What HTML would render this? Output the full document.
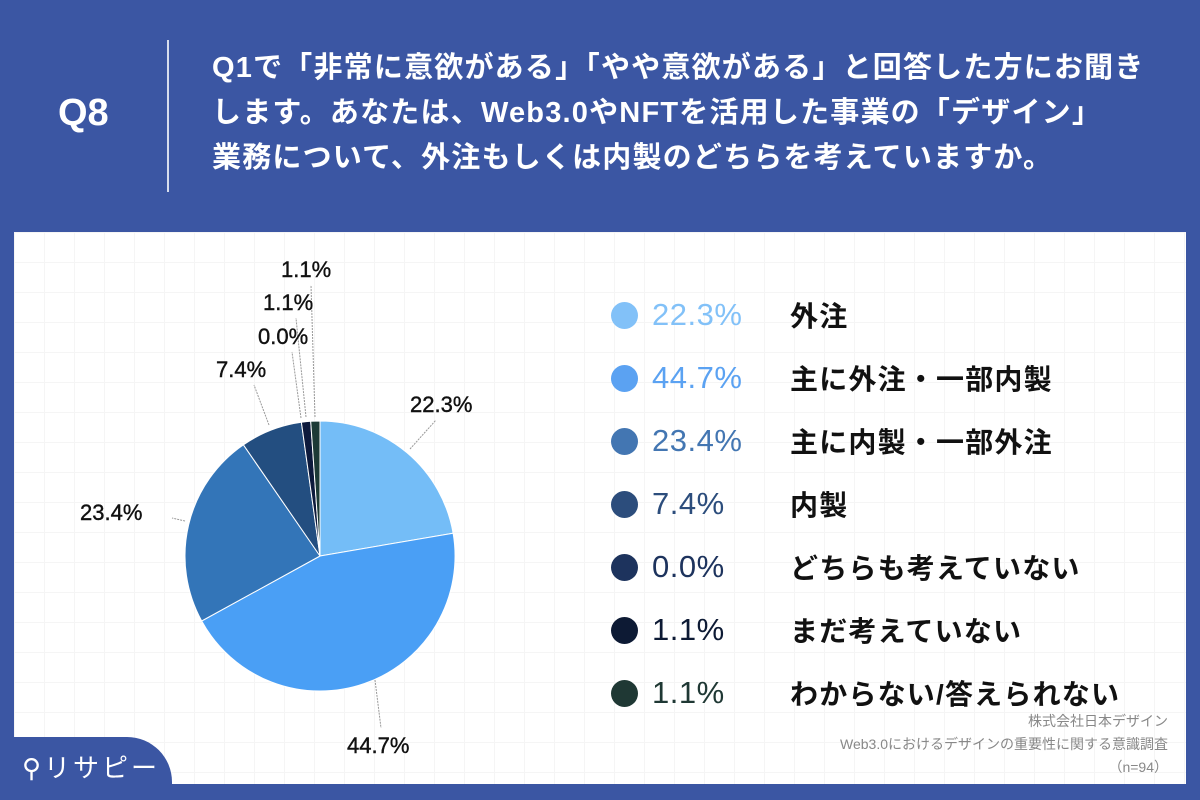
<!DOCTYPE html>
<html><head><meta charset="utf-8"><style>
body{margin:0;width:1200px;height:800px;background:#3b56a3;position:relative;overflow:hidden;font-family:"Liberation Sans","Noto Sans CJK JP",sans-serif}
.q8{position:absolute;left:58px;top:92px;color:#fff;font-size:38px;font-weight:bold}
.vl{position:absolute;left:167px;top:40px;width:2px;height:152px;background:#fff;opacity:.8}
.title{position:absolute;left:212px;top:46px;color:#fff;font-size:29px;font-weight:bold;line-height:45px;letter-spacing:1.2px;white-space:nowrap}
.panel{position:absolute;left:14px;top:232px;width:1172px;height:552px;background:#fff;
background-image:linear-gradient(#f5f5f5 1px,transparent 1px),linear-gradient(90deg,#f5f5f5 1px,transparent 1px);background-size:30px 30px}
.tab{position:absolute;left:0;top:737px;width:172px;height:63px;background:#3b56a3;border-top-right-radius:45px}
.logo{position:absolute;left:22px;top:748px;color:#fff;font-size:26px;letter-spacing:3px}
.row{position:absolute;left:611px;height:40px;display:flex;align-items:center}
.dot{width:27px;height:27px;border-radius:50%}
.pct{position:absolute;left:41px;font-size:31px;width:130px;letter-spacing:0.5px}
.lab{position:absolute;left:179px;font-size:28px;font-weight:bold;color:#111;white-space:nowrap;letter-spacing:1.2px}
.src{position:absolute;right:32px;top:710px;text-align:right;font-size:14px;color:#888;line-height:23px}
</style></head><body>
<div class="q8">Q8</div><div class="vl"></div>
<div class="title">Q1で「非常に意欲がある」「やや意欲がある」と回答した方にお聞き<br>します。あなたは、Web3.0やNFTを活用した事業の「デザイン」<br>業務について、外注もしくは内製のどちらを考えていますか。</div>
<div class="panel"></div>
<svg style="position:absolute;left:0;top:0" width="1200" height="800">
<g stroke="#fff" stroke-width="1">
<path d="M320,556 L320,421 A135,135 0 0 1 453.1,533.2Z" fill="#74bdf7"/>
<path d="M320,556 L453.1,533.2 A135,135 0 0 1 201.7,621Z" fill="#4a9ff5"/>
<path d="M320,556 L201.7,621 A135,135 0 0 1 243.4,444.8Z" fill="#3375b8"/>
<path d="M320,556 L243.4,444.8 A135,135 0 0 1 301.4,422.3Z" fill="#234e80"/>
<path d="M320,556 L301.4,422.3 A135,135 0 0 1 310.7,421.3Z" fill="#0d1a3c"/>
<path d="M320,556 L310.7,421.3 A135,135 0 0 1 320,421Z" fill="#1d3a36"/>
</g>
<g stroke="#999" stroke-width="1" stroke-dasharray="2,1" fill="none">
<line x1="410" y1="449" x2="436" y2="420"/>
<line x1="375" y1="680" x2="381" y2="728"/>
<line x1="185" y1="521" x2="172" y2="518"/>
<line x1="269" y1="425" x2="254" y2="385"/>
<line x1="301" y1="418" x2="292" y2="352"/>
<line x1="306" y1="417" x2="296" y2="318"/>
<line x1="315" y1="417" x2="311" y2="285"/>
</g>
<g font-family="Liberation Sans, sans-serif" font-size="22" fill="#111" stroke="#111" stroke-width="0.4">
<text x="410" y="412">22.3%</text>
<text x="347" y="753">44.7%</text>
<text x="80" y="520">23.4%</text>
<text x="216" y="377">7.4%</text>
<text x="258" y="344">0.0%</text>
<text x="263" y="310">1.1%</text>
<text x="281" y="277">1.1%</text>
</g>
</svg>
<div class="row" style="top:295px"><div class="dot" style="background:#82c1f8"></div><div class="pct" style="color:#82c1f8">22.3%</div><div class="lab">外注</div></div>
<div class="row" style="top:358px"><div class="dot" style="background:#5ba2f2"></div><div class="pct" style="color:#5ba2f2">44.7%</div><div class="lab">主に外注・一部内製</div></div>
<div class="row" style="top:421px"><div class="dot" style="background:#4376b2"></div><div class="pct" style="color:#4376b2">23.4%</div><div class="lab">主に内製・一部外注</div></div>
<div class="row" style="top:484px"><div class="dot" style="background:#2c4d7c"></div><div class="pct" style="color:#2c4d7c">7.4%</div><div class="lab">内製</div></div>
<div class="row" style="top:547px"><div class="dot" style="background:#1d335d"></div><div class="pct" style="color:#1d335d">0.0%</div><div class="lab">どちらも考えていない</div></div>
<div class="row" style="top:610px"><div class="dot" style="background:#0d1a34"></div><div class="pct" style="color:#0d1a34">1.1%</div><div class="lab">まだ考えていない</div></div>
<div class="row" style="top:673px"><div class="dot" style="background:#1f3834"></div><div class="pct" style="color:#1f3834">1.1%</div><div class="lab">わからない/答えられない</div></div>
<div class="src">株式会社日本デザイン<br>Web3.0におけるデザインの重要性に関する意識調査<br>（n=94）</div>
<div class="tab"></div>
<div class="logo">⚲リサピー</div>
</body></html>
